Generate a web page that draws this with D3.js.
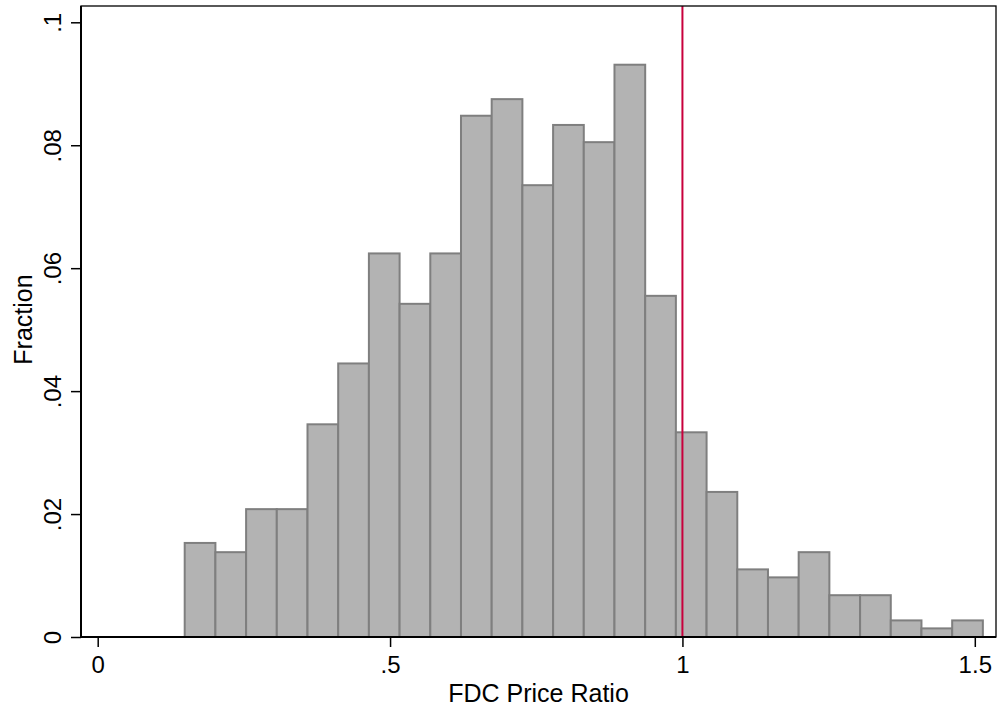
<!DOCTYPE html>
<html>
<head>
<meta charset="utf-8">
<script src="https://cdn.jsdelivr.net/npm/d3@7"></script>
<style>
  html, body { margin: 0; padding: 0; background: #fff; }
  svg { display: block; }
  text { font-family: "Liberation Sans", Arial, Helvetica, sans-serif; fill: #000; }
</style>
</head>
<body>
<svg id="chart" width="998" height="709"></svg>
<script>
// ---- data ----
const binStart = 0.1488;
const binWidth = 0.0525;
const fractions = [
  0.0153, 0.0138, 0.0208, 0.0208, 0.0346, 0.0445, 0.0624, 0.0542, 0.0624,
  0.0848, 0.0875, 0.0735, 0.0833, 0.0805, 0.0931, 0.0555, 0.0333, 0.0236,
  0.0110, 0.0097, 0.0138, 0.0068, 0.0068, 0.0027, 0.0014, 0.0027
];
const xTicks = [0, 0.5, 1, 1.5];
const xTickLabels = ["0", ".5", "1", "1.5"];
const yTicks = [0, 0.02, 0.04, 0.06, 0.08, 0.1];
const yTickLabels = ["0", ".02", ".04", ".06", ".08", ".1"];
const refLine = 1;
const xTitle = "FDC Price Ratio";
const yTitle = "Fraction";

// ---- layout ----
const svg = d3.select("#chart");
const frame = { left: 81, right: 996, top: 6, bottom: 637 };
const x = d3.scaleLinear().domain([0, 1.5]).range([97.7, 974.8]);
const y = d3.scaleLinear().domain([0, 0.1]).range([637, 22.3]);

// bars
const bins = fractions.map((v, i) => ({ x0: binStart + i * binWidth, x1: binStart + (i + 1) * binWidth, v }));
svg.append("g").selectAll("rect").data(bins).join("rect")
  .attr("x", d => x(d.x0))
  .attr("y", d => y(d.v))
  .attr("width", d => x(d.x1) - x(d.x0))
  .attr("height", d => y(0) - y(d.v))
  .attr("fill", "#b3b3b3")
  .attr("stroke", "#7f7f7f")
  .attr("stroke-width", 2);

// reference line
svg.append("line")
  .attr("x1", x(refLine)).attr("x2", x(refLine))
  .attr("y1", frame.top).attr("y2", frame.bottom)
  .attr("stroke", "#c8003c").attr("stroke-width", 2);

// frame
svg.append("rect")
  .attr("x", frame.left).attr("y", frame.top)
  .attr("width", frame.right - frame.left).attr("height", frame.bottom - frame.top)
  .attr("fill", "none").attr("stroke", "#000").attr("stroke-width", 1.3);
svg.append("line").attr("x1", frame.left).attr("x2", frame.left)
  .attr("y1", frame.top).attr("y2", frame.bottom).attr("stroke", "#000").attr("stroke-width", 2);
svg.append("line").attr("x1", frame.left).attr("x2", frame.right)
  .attr("y1", frame.bottom).attr("y2", frame.bottom).attr("stroke", "#000").attr("stroke-width", 2);

// x axis
const xAxis = d3.axisBottom(x).tickValues(xTicks)
  .tickFormat((d, i) => xTickLabels[i]).tickSize(10).tickSizeOuter(0).tickPadding(9);
const gx = svg.append("g").attr("transform", `translate(0,${frame.bottom})`).call(xAxis);
gx.select(".domain").remove();
gx.selectAll(".tick line").attr("stroke", "#000").attr("stroke-width", 1.5);
gx.selectAll(".tick text").attr("font-size", 24).attr("font-family", "Liberation Sans, Arial, sans-serif");

// y axis
const yAxis = d3.axisLeft(y).tickValues(yTicks)
  .tickFormat((d, i) => yTickLabels[i]).tickSize(10).tickSizeOuter(0);
const gy = svg.append("g").attr("transform", `translate(${frame.left},0)`).call(yAxis);
gy.select(".domain").remove();
gy.selectAll(".tick line").attr("stroke", "#000").attr("stroke-width", 1.5);
gy.selectAll(".tick text")
  .attr("font-size", 24).attr("font-family", "Liberation Sans, Arial, sans-serif")
  .attr("x", 0).attr("dy", null).attr("text-anchor", "middle")
  .attr("transform", "translate(-20,0) rotate(-90)");

// titles
svg.append("text")
  .attr("x", (frame.left + frame.right) / 2).attr("y", 701.5)
  .attr("text-anchor", "middle").attr("font-size", 25).text(xTitle);
svg.append("text")
  .attr("transform", `translate(32,${(frame.top + frame.bottom) / 2 - 2}) rotate(-90)`)
  .attr("text-anchor", "middle").attr("font-size", 25).text(yTitle);
</script>
</body>
</html>
